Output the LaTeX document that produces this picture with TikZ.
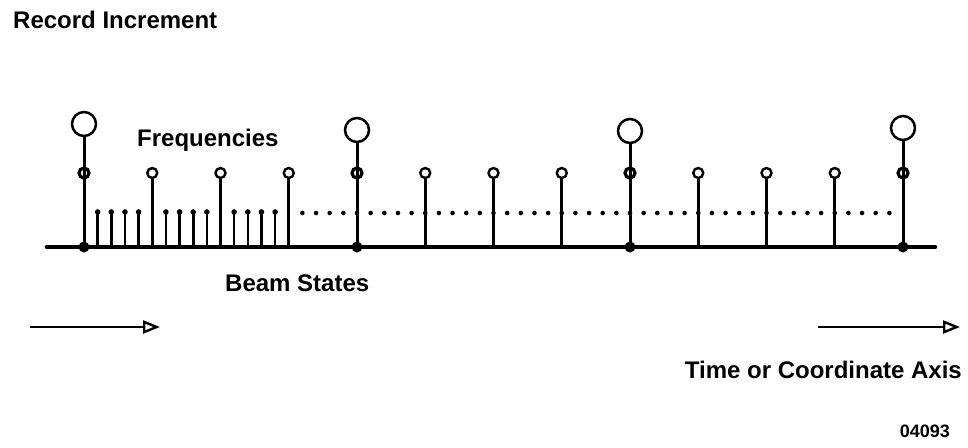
\documentclass[tikz,border=0pt]{standalone}
\usepackage{fontspec}
\setmainfont{Liberation Sans}
\usetikzlibrary{arrows.meta}
\begin{document}
\begin{tikzpicture}[x=1pt,y=-1pt,
  lbl/.style={font=\bfseries\fontsize{24}{28}\selectfont, inner sep=0pt},
  tag/.style={font=\bfseries\fontsize{18}{22}\selectfont, inner sep=0pt},
  axisline/.style={line width=4.6pt, line cap=round},
  bigstem/.style={line width=3pt},
  stem/.style={line width=2.6pt},
  bigring/.style={circle, draw, line width=2.5pt, minimum size=24pt, inner sep=0pt},
  midring/.style={circle, draw, line width=3.2pt, minimum size=10pt, inner sep=0pt},
  ring/.style={circle, draw, line width=2.4pt, minimum size=10pt, inner sep=0pt},
  dirarrow/.style={line width=2.6pt, -{Triangle[open, length=17pt, width=13pt, line width=2.4pt]}}]
\useasboundingbox (0,0) rectangle (968,447);

% labels
\node[lbl, anchor=base west] (title) at (13,28) {Record Increment};
\node[lbl, anchor=base west] (freq) at (137,146) {Frequencies};
\node[lbl, anchor=base west] (beam) at (225,291) {Beam States};
\node[lbl, anchor=base east] (axislbl) at (962,378) {Time or Coordinate Axis};
\node[tag, anchor=base east] (fignum) at (950,437) {04093};

% time axis
\coordinate (axL) at (47,247);
\coordinate (axR) at (935,247);
\draw[axisline] (axL) -- (axR);

% dotted level of the beam states beyond the first increment
\foreach \k in {16,...,59}
  \fill (84+13.65*\k,213) circle (2.3pt);

% beam states of the first increment
\foreach \k in {1,2,3,4,6,7,8,9,11,12,13,14} {
  \coordinate (bs\k) at (84+13.65*\k,212);
  \coordinate (bb\k) at (84+13.65*\k,247);
  \draw[stem] (bb\k) -- (bs\k);
  \fill (bs\k) circle (2.8pt);
}

% frequencies between record increments
\foreach \i in {0,1,2} {
  \foreach \j in {1,2,3} {
    \node[ring] (f\i\j) at (84+273*\i+68.25*\j,173) {};
    \coordinate (fb\i\j) at (84+273*\i+68.25*\j,247);
    \draw[stem] (f\i\j.south) -- (fb\i\j);
  }
}

% record increments
\foreach \i/\cy in {0/124,1/130,2/131,3/128} {
  \coordinate (b\i) at (84+273*\i,247);
  \node[bigring] (r\i) at (84+273*\i,\cy) {};
  \draw[bigstem] (r\i.south) -- (b\i);
  \node[midring] (m\i) at (84+273*\i,173) {};
  \fill (b\i) circle (5.5pt);
}

% direction arrows
\coordinate (la) at (30,327);
\coordinate (lb) at (160,327);
\draw[dirarrow] (la) -- (lb);
\coordinate (ra) at (818,327);
\coordinate (rb) at (960,327);
\draw[dirarrow] (ra) -- (rb);
\end{tikzpicture}
\end{document}
